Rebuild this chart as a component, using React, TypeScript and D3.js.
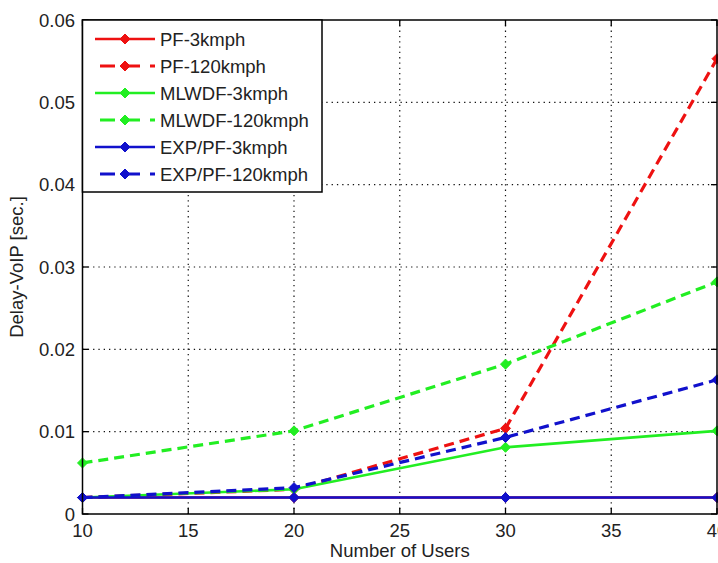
import React from "react";
import * as d3 from "d3";

const users = [10, 20, 30, 40];
const pf3 = [0.002, 0.002, 0.002, 0.002];
const pf120 = [0.002, 0.003, 0.0104, 0.0553];
const mlwdf3 = [0.002, 0.003, 0.0081, 0.0101];
const mlwdf120 = [0.0062, 0.0101, 0.0182, 0.0282];
const exp3 = [0.002, 0.002, 0.002, 0.002];
const exp120 = [0.002, 0.0032, 0.0093, 0.0163];

const xTicks = [10, 15, 20, 25, 30, 35, 40];
const yTicks = [0, 0.01, 0.02, 0.03, 0.04, 0.05, 0.06];
const seriesNames = ["PF-3kmph", "PF-120kmph", "MLWDF-3kmph", "MLWDF-120kmph", "EXP/PF-3kmph", "EXP/PF-120kmph"];
const seriesValues = [pf3, pf120, mlwdf3, mlwdf120, exp3, exp120];
const seriesColors = ["#ee1111", "#ee1111", "#22ee22", "#22ee22", "#1111cc", "#1111cc"];
const seriesDashed = [false, true, false, true, false, true];

const W = 718;
const H = 563;
const L = 82.5;
const R = 717;
const T = 20;
const B = 514;
const FONT = "Arial, 'Liberation Sans', Helvetica, sans-serif";
const FS = 18.5;

export default function App() {
  const x = d3.scaleLinear().domain([10, 40]).range([L, R]);
  const y = d3.scaleLinear().domain([0, 0.06]).range([B, T]);
  const line = d3
    .line<number>()
    .x((_, i) => x(users[i]))
    .y((d) => y(d));
  const diamond = (cx: number, cy: number, r: number) =>
    `M${cx},${cy - r}L${cx + r},${cy}L${cx},${cy + r}L${cx - r},${cy}Z`;

  const legendRows = seriesNames.map((n, i) => ({ n, i, cy: 39 + i * 27 }));

  return (
    <svg
      width={W}
      height={H}
      style={{ position: "absolute", left: 0, top: 0, background: "#fff" }}
      fontFamily={FONT}
    >
      <rect x={0} y={0} width={W} height={H} fill="#fff" />
      {xTicks.slice(1, -1).map((t) => (
        <line key={"gx" + t} x1={x(t)} x2={x(t)} y1={T} y2={B} stroke="#111" strokeWidth={1.2} strokeDasharray="1.3,4" />
      ))}
      {yTicks.slice(1, -1).map((t) => (
        <line key={"gy" + t} x1={L} x2={R} y1={y(t)} y2={y(t)} stroke="#111" strokeWidth={1.2} strokeDasharray="1.3,4" />
      ))}
      {xTicks.map((t) => (
        <g key={"tx" + t}>
          <line x1={x(t)} x2={x(t)} y1={B} y2={B - 6} stroke="#000" strokeWidth={1.3} />
          <line x1={x(t)} x2={x(t)} y1={T} y2={T + 6} stroke="#000" strokeWidth={1.3} />
          <text x={x(t)} y={B + 23} textAnchor="middle" fontSize={FS} fill="#222">
            {t}
          </text>
        </g>
      ))}
      {yTicks.map((t) => (
        <g key={"ty" + t}>
          <line x1={L} x2={L + 6} y1={y(t)} y2={y(t)} stroke="#000" strokeWidth={1.3} />
          <line x1={R} x2={R - 6} y1={y(t)} y2={y(t)} stroke="#000" strokeWidth={1.3} />
          <text x={75} y={y(t)} dy="0.36em" textAnchor="end" fontSize={FS} fill="#222">
            {t === 0 ? "0" : t.toFixed(2)}
          </text>
        </g>
      ))}
      {seriesValues.map((vals, si) => (
        <g key={"s" + si}>
          <path
            d={line(vals) || ""}
            fill="none"
            stroke={seriesColors[si]}
            strokeWidth={seriesDashed[si] ? 3.2 : 2.6}
            strokeDasharray={seriesDashed[si] ? "10,6" : undefined}
          />
          {vals.map((v, i) => (
            <path key={i} d={diamond(x(users[i]), y(v), 5)} fill={seriesColors[si]} stroke={seriesColors[si]} strokeWidth={1} />
          ))}
        </g>
      ))}
      <rect x={L} y={T} width={R - L} height={B - T} fill="none" stroke="#000" strokeWidth={1.5} />
      <rect x={L} y={T} width={322 - L} height={192 - T} fill="#fff" stroke="#000" strokeWidth={1.5} />
      {legendRows.map(({ n, i, cy }) => (
        <g key={"l" + i}>
          <line
            x1={seriesDashed[i] ? 100 : 95}
            x2={155}
            y1={cy}
            y2={cy}
            stroke={seriesColors[i]}
            strokeWidth={seriesDashed[i] ? 3 : 2.6}
            strokeDasharray={seriesDashed[i] ? "15,10" : undefined}
          />
          <path d={diamond(125, cy, 5)} fill={seriesColors[i]} stroke={seriesColors[i]} />
          <text x={160} y={cy} dy="0.36em" fontSize={FS} fill="#222">
            {n}
          </text>
        </g>
      ))}
      <text x={(L + R) / 2} y={557} textAnchor="middle" fontSize={FS} fill="#222">
        Number of Users
      </text>
      <text transform={`translate(23,${(T + B) / 2}) rotate(-90)`} textAnchor="middle" fontSize={FS} fill="#222">
        Delay-VoIP [sec.]
      </text>
    </svg>
  );
}
